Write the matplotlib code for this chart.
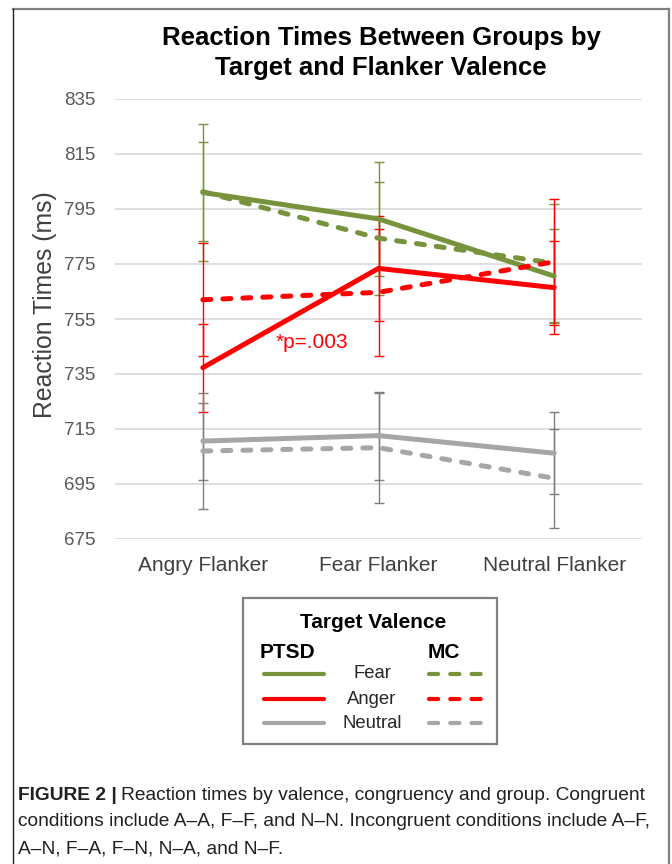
import matplotlib
matplotlib.use("Agg")
import matplotlib.pyplot as plt
from matplotlib.lines import Line2D
from matplotlib.patches import Rectangle

plt.rcParams['font.family'] = ['Liberation Sans', 'DejaVu Sans']

# ---------------- data ----------------
categories = ["Angry Flanker", "Fear Flanker", "Neutral Flanker"]
yticks = [675, 695, 715, 735, 755, 775, 795, 815, 835]

ptsd_fear = [801.0, 791.4, 770.6]
ptsd_fear_err = [25.0, 20.6, 17.0]
mc_fear = [801.3, 784.4, 775.3]
mc_fear_err = [18.0, 20.5, 21.5]

ptsd_anger = [737.3, 773.4, 766.4]
ptsd_anger_err = [16.0, 19.0, 17.0]
mc_anger = [762.0, 764.7, 775.8]
mc_anger_err = [20.5, 23.0, 23.0]

ptsd_neutral = [710.6, 712.6, 706.2]
ptsd_neutral_err = [14.0, 16.0, 15.0]
mc_neutral = [707.0, 708.2, 697.1]
mc_neutral_err = [21.0, 20.0, 18.0]

legend_rows = ["Fear", "Anger", "Neutral"]
title = "Reaction Times Between Groups by\nTarget and Flanker Valence"
annot = "*p=.003"
caption_bold = "FIGURE 2 |"
caption_l1 = "Reaction times by valence, congruency and group. Congruent"
caption_l2 = "conditions include A\u2013A, F\u2013F, and N\u2013N. Incongruent conditions include A\u2013F,"
caption_l3 = "A\u2013N, F\u2013A, F\u2013N, N\u2013A, and N\u2013F."

GREEN = '#77933C'
RED = '#FF0000'
GRAY = '#A6A6A6'
GRAY_ERR = '#7F7F7F'

W, H = 672, 864
fig = plt.figure(figsize=(W / 100, H / 100), dpi=100)
fig.patch.set_facecolor('white')

def fx(px):
    return px / W

def fy(py):
    return 1 - py / H

# axes
left, right, top, bottom = 115, 642, 99, 539
ax = fig.add_axes([fx(left), fy(bottom), fx(right - left), (bottom - top) / H])
x = list(range(len(categories)))

series = [
    (ptsd_fear, ptsd_fear_err, GREEN, GREEN, False),
    (mc_fear, mc_fear_err, GREEN, GREEN, True),
    (ptsd_anger, ptsd_anger_err, RED, RED, False),
    (mc_anger, mc_anger_err, RED, RED, True),
    (ptsd_neutral, ptsd_neutral_err, GRAY, GRAY_ERR, False),
    (mc_neutral, mc_neutral_err, GRAY, GRAY_ERR, True),
]

LW = 3.6
for vals, errs, col, ecol, dashed in series:
    ax.errorbar(x, vals, yerr=errs, fmt='none', ecolor=ecol, elinewidth=1.0,
                capsize=3.6, capthick=1.0, zorder=2)
for vals, errs, col, ecol, dashed in series:
    if dashed:
        ax.plot(x, vals, color=col, lw=LW, dashes=(1.6, 2.4),
                dash_capstyle='round', solid_joinstyle='round', zorder=3)
    else:
        ax.plot(x, vals, color=col, lw=LW, solid_capstyle='round',
                solid_joinstyle='round', zorder=3)

ax.set_xlim(-0.5, len(categories) - 0.5)
ax.set_ylim(675, 835)
ax.set_yticks(yticks)
ax.set_yticklabels([str(v) for v in yticks], fontsize=13.5, color='#595959')
ax.set_xticks(x)
ax.set_xticklabels(categories, fontsize=15, color='#404040')
ax.tick_params(axis='both', length=0)
ax.tick_params(axis='y', pad=14)
ax.tick_params(axis='x', pad=12)
ax.grid(axis='y', color='#D9D9D9', lw=1.2, zorder=0)
ax.set_axisbelow(True)
for s in ax.spines.values():
    s.set_visible(False)

ax.text(0.62, 746.3, annot, color=RED, fontsize=15, ha='center', va='center')

fig.text(fx(45), fy(305), "Reaction Times (ms)", rotation=90, fontsize=17.8,
         color='#404040', ha='center', va='center')

fig.text(fx(381), fy(53), title, fontsize=18.5, fontweight='bold', ha='center',
         va='center', color='black', linespacing=1.3)

# ---------- legend box ----------
fig.add_artist(Rectangle((fx(243), fy(744)), fx(497 - 243), (744 - 598) / H,
                         transform=fig.transFigure, fill=False,
                         edgecolor='#808080', lw=1.6))
fig.text(fx(373), fy(623), "Target Valence", fontsize=15, fontweight='bold',
         ha='center', va='center', color='black')
fig.text(fx(287), fy(652), "PTSD", fontsize=15, fontweight='bold',
         ha='center', va='center', color='black')
fig.text(fx(444), fy(652), "MC", fontsize=15, fontweight='bold',
         ha='center', va='center', color='black')
row_y = [674, 699, 723]
row_cols = [GREEN, RED, GRAY]
for lab, yy, col in zip(legend_rows, row_y, row_cols):
    fig.add_artist(Line2D([fx(264), fx(324)], [fy(yy), fy(yy)], color=col,
                          lw=3.0, solid_capstyle='round',
                          transform=fig.transFigure))
    fig.add_artist(Line2D([fx(429), fx(482)], [fy(yy), fy(yy)], color=col,
                          lw=3.0, dashes=(2.2, 2.9), dash_capstyle='round',
                          transform=fig.transFigure))
    fig.text(fx(372), fy(yy), lab, fontsize=13.3, ha='center', va='center',
             color='#262626')

# ---------- frame ----------
fig.add_artist(Line2D([fx(669), fx(669)], [fy(9), 0], color='#808080', lw=1.6,
                      transform=fig.transFigure))
fig.add_artist(Line2D([fx(13), fx(669)], [fy(9), fy(9)], color='#808080', lw=1.6,
                      transform=fig.transFigure))
fig.add_artist(Line2D([fx(13), fx(13)], [fy(9), 0], color='#222222', lw=1.0,
                      transform=fig.transFigure))

# ---------- caption ----------
cap_fs = 13.8
cap_col = '#231F20'
tb = fig.text(fx(18), fy(795), caption_bold, fontsize=cap_fs, fontweight='bold',
              ha='left', va='center', color=cap_col)
fig.canvas.draw()
bb = tb.get_window_extent(renderer=fig.canvas.get_renderer())
fig.text(bb.x1 / W + fx(4), fy(795), caption_l1, fontsize=cap_fs, ha='left',
         va='center', color=cap_col)
fig.text(fx(18), fy(822), caption_l2, fontsize=cap_fs, ha='left', va='center',
         color=cap_col)
fig.text(fx(18), fy(849), caption_l3, fontsize=cap_fs, ha='left', va='center',
         color=cap_col)

fig.savefig('out.png', dpi=100)
